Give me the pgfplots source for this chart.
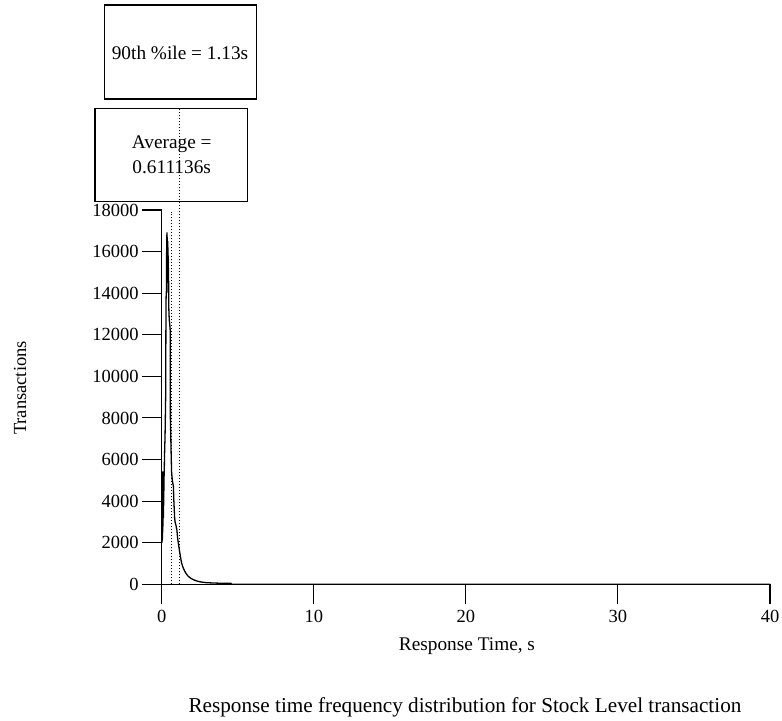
\documentclass[border=0pt]{standalone}
\usepackage{fontspec}
\setmainfont{Liberation Serif}
\usepackage{pgfplots}
\pgfplotsset{compat=1.18}
\begin{document}
\begin{tikzpicture}[font=\fontsize{18.5bp}{22bp}\selectfont]
\path[use as bounding box] (0,0) rectangle (782bp,721bp);
\begin{axis}[
  at={(161.7bp,136.7bp)}, anchor=south west,
  scale only axis, width=608.3bp, height=374.3bp,
  xmin=0, xmax=40, ymin=0, ymax=18000,
  axis x line*=bottom, axis y line*=left,
  axis line style={line width=1.1bp, black},
  tick align=outside, major tick length=19.5bp,
  every tick/.style={line width=1.1bp, black},
  xtick={0,10,20,30,40},
  ytick={0,2000,4000,6000,8000,10000,12000,14000,16000,18000},
  xticklabel style={yshift=-3bp},
  scaled y ticks=false,
  /pgf/number format/1000 sep={},
  /pgf/number format/assume math mode=true,
  clip=false,
]
\addplot[black, line width=1.3bp, line join=round] coordinates {
(0,2000) (0.01,2000) (0.02,5400) (0.03,2100) (0.04,5300) (0.05,2200) (0.06,5400)
(0.07,2500) (0.08,5200) (0.09,2800) (0.10,5300) (0.11,3200) (0.12,5400) (0.13,3800)
(0.14,5300) (0.15,4500) (0.16,5400) (0.17,5500)
(0.18,6000) (0.20,6600) (0.22,7100) (0.24,8000) (0.26,9000) (0.27,11000) (0.28,13000)
(0.29,13800) (0.30,14000) (0.31,14100) (0.32,15000) (0.33,16800)
(0.34,15500) (0.35,16900) (0.36,15200) (0.37,16700) (0.38,15000) (0.39,16500)
(0.40,14800) (0.41,16200) (0.42,14500) (0.43,15800) (0.44,14000) (0.45,15200)
(0.46,13500) (0.48,13000) (0.50,12700) (0.53,12500) (0.56,12200) (0.57,8000)
(0.60,7000) (0.63,6000) (0.65,5400) (0.70,5000) (0.77,4700) (0.80,4000) (0.85,3200)
(0.88,3000) (0.95,2800) (1.00,2600) (1.05,2200) (1.10,1950) (1.15,1700) (1.23,1350)
(1.30,1050) (1.38,850) (1.50,650) (1.60,520) (1.75,380) (1.93,280) (2.15,200)
(2.37,145) (2.6,110) (2.91,80) (3.3,65) (3.9,50) (4.55,50) (4.6,0) (40,0)
};
\addplot[black, line width=0.7bp, dash pattern=on 1bp off 2bp] coordinates {(0.611136,0) (0.611136,17900)};
\addplot[black, line width=0.7bp, dash pattern=on 1bp off 2bp] coordinates {(1.13,0) (1.13,22905)};
\end{axis}
\begin{scope}[font=\fontsize{19.3bp}{23bp}\selectfont]
\draw[line width=1.1bp] (104.3bp,716bp) rectangle (256.7bp,622bp);
\node[anchor=base, inner sep=0pt] at (180bp,661.7bp) {90th \%ile = 1.13s};
\draw[line width=1.1bp] (95bp,612.7bp) rectangle (247.3bp,519.7bp);
\node[anchor=base, inner sep=0pt] at (171.7bp,572bp) {Average =};
\node[anchor=base, inner sep=0pt] at (171.7bp,547bp) {0.611136s};
\node[anchor=base, inner sep=0pt] at (467bp,70bp) {Response Time, s};
\end{scope}
\node[rotate=90, inner sep=0pt] at (20bp,333bp) {Transactions};
\node[anchor=base, inner sep=0pt, font=\fontsize{21.2bp}{25bp}\selectfont] at (465bp,9bp) {Response time frequency distribution for Stock Level transaction};
\end{tikzpicture}
\end{document}
